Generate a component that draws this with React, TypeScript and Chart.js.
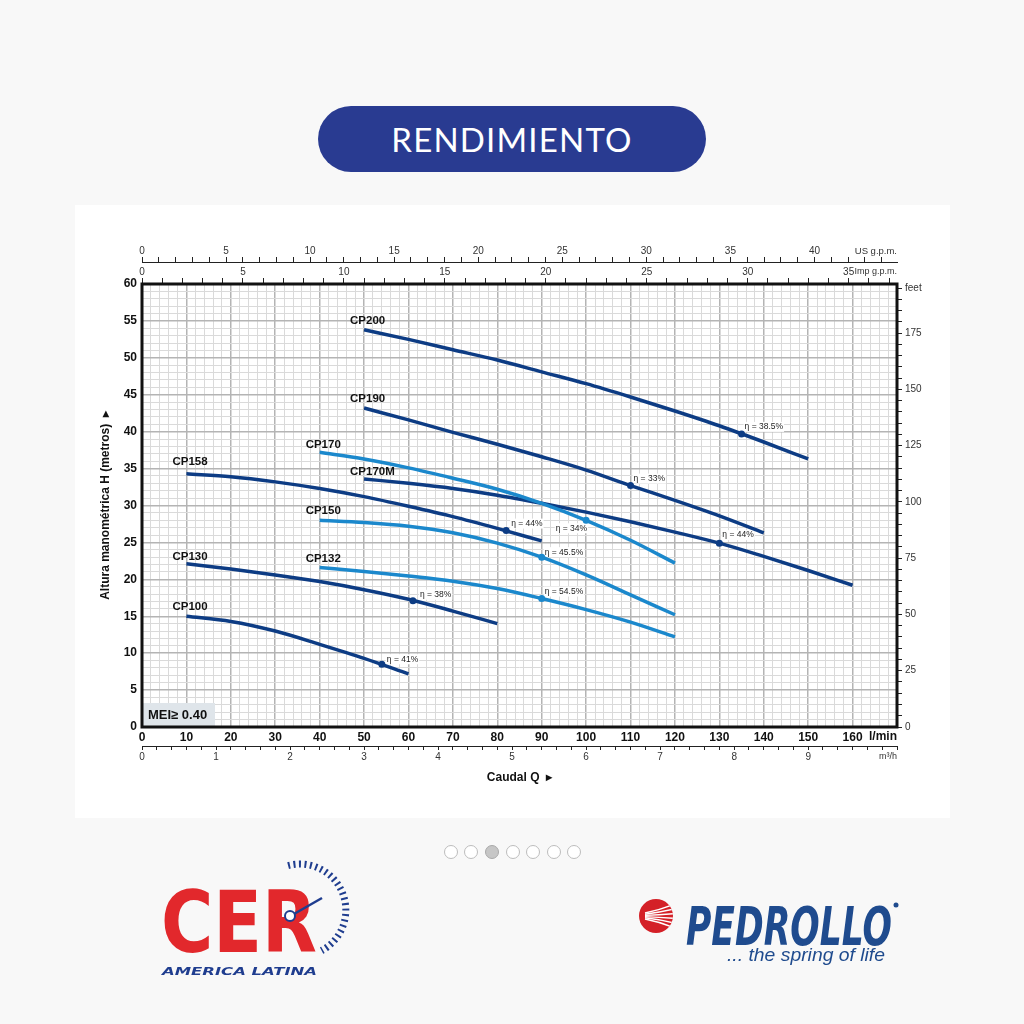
import React, { useEffect, useRef } from 'react';
import { Chart, registerables } from 'chart.js';

Chart.register(...registerables);

// ---------------- DATA ----------------
const CP200_Q = [50, 60, 70, 80, 90, 100, 110, 120, 130, 140, 150];
const CP200_H = [53.8, 52.5, 51.1, 49.7, 48.1, 46.5, 44.7, 42.8, 40.8, 38.6, 36.3];
const CP190_Q = [50, 60, 70, 80, 90, 100, 110, 120, 130, 140];
const CP190_H = [43.2, 41.6, 39.9, 38.3, 36.6, 34.8, 32.7, 30.7, 28.6, 26.3];
const CP170_Q = [40, 50, 60, 70, 80, 90, 100, 110, 120];
const CP170_H = [37.2, 36.3, 35.1, 33.7, 32.2, 30.3, 28.0, 25.3, 22.2];
const CP170M_Q = [50, 60, 70, 80, 90, 100, 110, 120, 130, 140, 150, 160];
const CP170M_H = [33.6, 33.0, 32.3, 31.4, 30.3, 29.1, 27.8, 26.4, 24.9, 23.1, 21.2, 19.2];
const CP158_Q = [10, 20, 30, 40, 50, 60, 70, 80, 90];
const CP158_H = [34.3, 33.9, 33.2, 32.3, 31.2, 29.9, 28.5, 26.9, 25.2];
const CP150_Q = [40, 50, 60, 70, 80, 90, 100, 110, 120];
const CP150_H = [28.0, 27.7, 27.2, 26.3, 24.9, 23.0, 20.6, 17.9, 15.2];
const CP132_Q = [40, 50, 60, 70, 80, 90, 100, 110, 120];
const CP132_H = [21.6, 21.05, 20.45, 19.75, 18.75, 17.4, 15.9, 14.2, 12.2];
const CP130_Q = [10, 20, 30, 40, 50, 60, 70, 80];
const CP130_H = [22.1, 21.4, 20.6, 19.7, 18.6, 17.3, 15.7, 14.0];
const CP100_Q = [10, 20, 30, 40, 50, 60];
const CP100_H = [15.0, 14.3, 13.0, 11.2, 9.3, 7.2];

const EFF_MODEL = ['CP200', 'CP190', 'CP170M', 'CP170', 'CP158', 'CP150', 'CP132', 'CP130', 'CP100'];
const EFF_Q = [135, 110, 130, 100, 82, 90, 90, 61, 54];
const EFF_H = [39.7, 32.7, 24.9, 28.0, 26.6, 23.0, 17.4, 17.1, 8.5];
const EFF_TEXT = ['η = 38.5%', 'η = 33%', 'η = 44%', 'η = 34%', 'η = 44%', 'η = 45.5%', 'η = 54.5%', 'η = 38%', 'η = 41%'];

const H_LABELS = [0, 5, 10, 15, 20, 25, 30, 35, 40, 45, 50, 55, 60];
const Q_LABELS = [0, 10, 20, 30, 40, 50, 60, 70, 80, 90, 100, 110, 120, 130, 140, 150, 160];
const FEET_LABELS = [0, 25, 50, 75, 100, 125, 150, 175];
const USGPM_LABELS = [0, 5, 10, 15, 20, 25, 30, 35, 40];
const IMPGPM_LABELS = [0, 5, 10, 15, 20, 25, 30, 35];
const M3H_LABELS = [0, 1, 2, 3, 4, 5, 6, 7, 8, 9];

const TITLE_TEXT = 'RENDIMIENTO';
const Y_TITLE = 'Altura manométrica H (metros)  ▸';
const X_TITLE = 'Caudal Q  ▸';
const MEI_TEXT = 'MEI≥ 0.40';

// ---------------- STYLE ----------------
const DARK = '#0d3c84';
const LIGHT = '#1b88cc';
const SANS = "'Liberation Sans', Arial, sans-serif";
const NARROW = "'Liberation Sans Narrow', 'Arial Narrow', 'Liberation Sans', sans-serif";
const GRID_MAJOR = '#b4b4b4';
const GRID_MINOR = '#dadada';

const SERIES = [
  { name: 'CP200', q: CP200_Q, h: CP200_H, color: DARK, off: [-14, -9] },
  { name: 'CP190', q: CP190_Q, h: CP190_H, color: DARK, off: [-14, -9] },
  { name: 'CP170', q: CP170_Q, h: CP170_H, color: LIGHT, off: [-14, -8] },
  { name: 'CP170M', q: CP170M_Q, h: CP170M_H, color: DARK, off: [-14, -7] },
  { name: 'CP158', q: CP158_Q, h: CP158_H, color: DARK, off: [-14, -12] },
  { name: 'CP150', q: CP150_Q, h: CP150_H, color: LIGHT, off: [-14, -9] },
  { name: 'CP132', q: CP132_Q, h: CP132_H, color: LIGHT, off: [-14, -9] },
  { name: 'CP130', q: CP130_Q, h: CP130_H, color: DARK, off: [-14, -7] },
  { name: 'CP100', q: CP100_Q, h: CP100_H, color: DARK, off: [-14, -9] },
];
const EFF_OFF: Record<string, [number, number, string]> = {
  CP200: [3, -7, 'left'],
  CP190: [3, -7, 'left'],
  CP170M: [3, -8, 'left'],
  CP170: [1, 8, 'right'],
  CP158: [5, -7, 'left'],
  CP150: [3, -5, 'left'],
  CP132: [3, -7, 'left'],
  CP130: [7, -6, 'left'],
  CP100: [5, -5, 'left'],
};

const L_PER_USGAL = 3.78541;
const L_PER_IMPGAL = 4.54609;
const M_PER_FT = 0.3048;
const Q_MAX = 170;
const H_MAX = 60;

const isMult = (v: number, m: number) => Math.abs(v / m - Math.round(v / m)) < 1e-6;

const overlayPlugin = {
  id: 'overlay',
  beforeDatasetsDraw(chart: any) {
    const { ctx, chartArea: ca, scales } = chart;
    const x = scales.x, y = scales.y;
    ctx.save();
    ctx.fillStyle = '#dfe5ea';
    ctx.fillRect(ca.left, ca.bottom - 24, 73, 24);
    ctx.fillStyle = '#111';
    ctx.font = `bold 13px ${SANS}`;
    ctx.textBaseline = 'middle';
    ctx.textAlign = 'left';
    ctx.fillText(MEI_TEXT, ca.left + 6, ca.bottom - 12);

    ctx.font = `8.5px ${SANS}`;
    EFF_MODEL.forEach((m, i) => {
      const px = x.getPixelForValue(EFF_Q[i]);
      const py = y.getPixelForValue(EFF_H[i]);
      const [dx, dy, align] = EFF_OFF[m];
      const w = ctx.measureText(EFF_TEXT[i]).width;
      const tx = align === 'right' ? px + dx - w : px + dx;
      ctx.fillStyle = '#fff';
      ctx.fillRect(tx - 1, py + dy - 5, w + 2, 10);
      ctx.fillStyle = '#222';
      ctx.fillText(EFF_TEXT[i], tx, py + dy);
    });
    ctx.restore();
  },
  afterDatasetsDraw(chart: any) {
    const { ctx, chartArea: ca, scales } = chart;
    const x = scales.x, y = scales.y;
    ctx.save();
    ctx.fillStyle = '#111';
    ctx.font = `bold 11.5px ${SANS}`;
    ctx.textBaseline = 'middle';
    ctx.textAlign = 'left';
    SERIES.forEach((s) => {
      const px = x.getPixelForValue(s.q[0]);
      const py = y.getPixelForValue(s.h[0]);
      ctx.fillText(s.name, px + s.off[0], py + s.off[1]);
    });
    ctx.lineWidth = 3;
    ctx.strokeStyle = '#111';
    ctx.strokeRect(ca.left, ca.top, ca.right - ca.left, ca.bottom - ca.top);
    ctx.restore();
  },
  afterDraw(chart: any) {
    const { ctx, chartArea: ca, scales } = chart;
    ctx.save();
    ctx.textAlign = 'right';
    ctx.textBaseline = 'middle';
    ctx.fillStyle = '#111';
    ctx.font = `bold 12px ${SANS}`;
    ctx.fillText('l/min', ca.right, scales.x.top + 10);
    ctx.fillStyle = '#333';
    ctx.font = `9.5px ${NARROW}`;
    ctx.fillText('US g.p.m.', ca.right, scales.xUS.bottom - 11);
    ctx.font = `9px ${NARROW}`;
    ctx.fillText('Imp g.p.m.', ca.right, scales.xImp.bottom - 12);
    ctx.fillText('m³/h', ca.right, scales.xM3.top + 11);
    ctx.restore();
  },
};

function ChartView() {
  const ref = useRef<HTMLCanvasElement | null>(null);
  useEffect(() => {
    if (!ref.current) return;
    const datasets: any[] = SERIES.map((s) => ({
      label: s.name,
      data: s.q.map((q, i) => ({ x: q, y: s.h[i] })),
      borderColor: s.color,
      backgroundColor: s.color,
      borderWidth: 3.5,
      pointRadius: 0,
      tension: 0.4,
      cubicInterpolationMode: 'monotone',
      fill: false,
      borderCapStyle: 'butt',
    }));
    datasets.push({
      label: 'eff',
      data: EFF_Q.map((q, i) => ({ x: q, y: EFF_H[i] })),
      showLine: false,
      pointRadius: 3.5,
      pointBorderWidth: 0,
      pointBackgroundColor: EFF_MODEL.map((m) => SERIES.find((s) => s.name === m)!.color),
    });

    const tickGrid = (len: number) => ({
      drawOnChartArea: false,
      drawTicks: true,
      tickLength: len,
      color: '#222',
      lineWidth: 1,
    });

    const chart = new Chart(ref.current, {
      type: 'line',
      data: { datasets },
      plugins: [overlayPlugin],
      options: {
        responsive: false,
        animation: false,
        layout: { padding: { top: 38, left: 0, right: 0, bottom: 0 } },
        plugins: { legend: { display: false }, tooltip: { enabled: false } },
        scales: {
          x: {
            type: 'linear',
            position: 'bottom',
            min: 0,
            max: Q_MAX,
            weight: 0,
            afterFit: (s: any) => { s.height = 19; },
            ticks: {
              stepSize: 2,
              autoSkip: false,
              maxRotation: 0,
              padding: 3,
              color: '#111',
              font: { family: SANS, size: 12, weight: 'bold' },
              callback: (v: any) => (Q_LABELS.some((l) => Math.abs(l - v) < 1e-6) ? String(Math.round(v)) : ''),
            },
            grid: {
              drawTicks: false,
              color: (c: any) => (isMult(c.tick.value, 10) ? GRID_MAJOR : GRID_MINOR),
              lineWidth: (c: any) => (isMult(c.tick.value, 10) ? 1.5 : 1),
            },
            border: { display: false },
          },
          xM3: {
            type: 'linear',
            axis: 'x',
            position: 'bottom',
            min: 0,
            max: Q_MAX * 0.06,
            weight: 1,
            afterFit: (s: any) => { s.height = 72; },
            ticks: {
              stepSize: 0.2,
              includeBounds: false,
              autoSkip: false,
              maxRotation: 0,
              padding: 1,
              color: '#333',
              font: { family: NARROW, size: 10 },
              callback: (v: any) => (M3H_LABELS.some((l) => Math.abs(l - v) < 1e-6) ? String(Math.round(v)) : ''),
            },
            grid: tickGrid(4),
            border: { display: true, color: '#222', width: 1 },
            title: {
              display: true,
              text: X_TITLE,
              color: '#111',
              font: { family: SANS, size: 12, weight: 'bold' },
              padding: { top: 0, bottom: 33 },
            },
          },
          xImp: {
            type: 'linear',
            axis: 'x',
            position: 'top',
            min: 0,
            max: Q_MAX / L_PER_IMPGAL,
            weight: 0,
            afterFit: (s: any) => { s.height = 22; },
            ticks: {
              stepSize: 1,
              includeBounds: false,
              autoSkip: false,
              maxRotation: 0,
              padding: 0,
              color: '#333',
              font: { family: NARROW, size: 10 },
              callback: (v: any) => (IMPGPM_LABELS.some((l) => Math.abs(l - v) < 1e-6) ? String(Math.round(v)) : ''),
            },
            grid: tickGrid(6),
            border: { display: false },
          },
          xUS: {
            type: 'linear',
            axis: 'x',
            position: 'top',
            min: 0,
            max: Q_MAX / L_PER_USGAL,
            weight: 1,
            afterFit: (s: any) => { s.height = 19; },
            ticks: {
              stepSize: 1,
              includeBounds: false,
              autoSkip: false,
              maxRotation: 0,
              padding: 0,
              color: '#333',
              font: { family: NARROW, size: 10 },
              callback: (v: any) => (USGPM_LABELS.some((l) => Math.abs(l - v) < 1e-6) ? String(Math.round(v)) : ''),
            },
            grid: tickGrid(5),
            border: { display: true, color: '#222', width: 1 },
          },
          y: {
            type: 'linear',
            position: 'left',
            min: 0,
            max: H_MAX,
            afterFit: (s: any) => { s.width = 67; },
            ticks: {
              stepSize: 1,
              autoSkip: false,
              padding: 5,
              color: '#111',
              font: { family: SANS, size: 12, weight: 'bold' },
              callback: (v: any) => (H_LABELS.some((l) => Math.abs(l - v) < 1e-6) ? String(Math.round(v)) : ''),
            },
            grid: {
              drawTicks: false,
              color: (c: any) => (isMult(c.tick.value, 5) ? GRID_MAJOR : GRID_MINOR),
              lineWidth: (c: any) => (isMult(c.tick.value, 5) ? 1.5 : 1),
            },
            border: { display: false },
            title: {
              display: true,
              text: Y_TITLE,
              color: '#111',
              font: { family: SANS, size: 12, weight: 'bold' },
              padding: { top: 23, bottom: 0 },
            },
          },
          yFeet: {
            type: 'linear',
            axis: 'y',
            position: 'right',
            min: 0,
            max: H_MAX / M_PER_FT,
            afterFit: (s: any) => { s.width = 53; },
            ticks: {
              stepSize: 5,
              includeBounds: false,
              autoSkip: false,
              padding: 3,
              color: '#333',
              font: { family: NARROW, size: 10 },
              callback: (v: any) => {
                if (Math.abs(v - 195) < 1e-6) return 'feet';
                return FEET_LABELS.some((l) => Math.abs(l - v) < 1e-6) ? String(Math.round(v)) : '';
              },
            },
            grid: tickGrid(5),
            border: { display: false },
          },
        },
      } as any,
    });
    return () => chart.destroy();
  }, []);
  return <canvas ref={ref} width={875} height={613} style={{ width: 875, height: 613, display: 'block' }} />;
}

const DOT_X = [450.7, 471.3, 491.9, 512.5, 533.1, 553.7, 574.3];

export default function App() {
  return (
    <div style={{ position: 'fixed', left: 0, top: 0, width: 1024, height: 1024, background: '#f8f8f8', overflow: 'hidden' }}>
      <div
        style={{
          position: 'absolute', left: 318, top: 106, width: 388, height: 66, borderRadius: 33,
          background: '#293b91', color: '#fff', display: 'flex', alignItems: 'center', justifyContent: 'center',
          fontFamily: 'Lato, sans-serif', fontSize: 33, letterSpacing: 1.2,
        }}
      >
        {TITLE_TEXT}
      </div>
      <div style={{ position: 'absolute', left: 75, top: 205, width: 875, height: 613, background: '#ffffff' }}>
        <ChartView />
      </div>
      {DOT_X.map((cx, i) => (
        <div
          key={i}
          style={{
            position: 'absolute', left: cx - 7, top: 852 - 7, width: 14, height: 14, boxSizing: 'border-box',
            borderRadius: '50%', border: `1.5px solid ${i === 2 ? '#a9a9a9' : '#bdbdbd'}`,
            background: i === 2 ? '#c6c6c6' : '#fff',
          }}
        />
      ))}
      <svg width={1024} height={1024} style={{ position: 'absolute', left: 0, top: 0 }}>
        {/* CER logo */}
        <path d="M 288.1 865.6 A 46 46 0 0 1 321.6 950.6" fill="none" stroke="#1f3d8f" strokeWidth={7} strokeDasharray="2 3.5" />
        <text x={161} y={952} fontFamily="'DejaVu Sans', sans-serif" fontWeight="bold" fontSize={86} textLength={156} lengthAdjust="spacingAndGlyphs" fill="#e2282c">CER</text>
        <line x1={294} y1={914} x2={322} y2={898} stroke="#1f3d8f" strokeWidth={2.5} />
        <circle cx={290} cy={916} r={5} fill="#fff" stroke="#1f3d8f" strokeWidth={2} />
        <text x={162} y={975} fontFamily="'DejaVu Sans', sans-serif" fontStyle="italic" fontWeight="bold" fontSize={11} textLength={155} lengthAdjust="spacingAndGlyphs" fill="#1f3d8f">AMERICA LATINA</text>
        {/* Pedrollo logo */}
        <defs>
          <clipPath id="pclip"><circle cx={656} cy={916} r={17} /></clipPath>
        </defs>
        <circle cx={656} cy={916} r={17} fill="#d42027" />
        <g clipPath="url(#pclip)" stroke="#fff" strokeWidth={1.4} fill="none">
          {[-10, -6, -2, 2, 6, 10].map((d, i) => (
            <path key={i} d={`M 645 ${916 + d * 0.3} Q 660 ${916 + d * 0.6} 675 ${916 + d * 1.2}`} />
          ))}
        </g>
        <text x={686} y={945} fontFamily="'DejaVu Sans', sans-serif" fontStyle="italic" fontWeight="bold" fontSize={54} textLength={206} lengthAdjust="spacingAndGlyphs" fill="#1f4b8e">PEDROLLO</text>
        <circle cx={896} cy={905} r={2.5} fill="#1f4b8e" />
        <text x={727} y={961} fontFamily="'Liberation Sans', Arial, sans-serif" fontStyle="italic" fontSize={18} textLength={158} lengthAdjust="spacingAndGlyphs" fill="#1f4b8e">... the spring of life</text>
      </svg>
    </div>
  );
}
